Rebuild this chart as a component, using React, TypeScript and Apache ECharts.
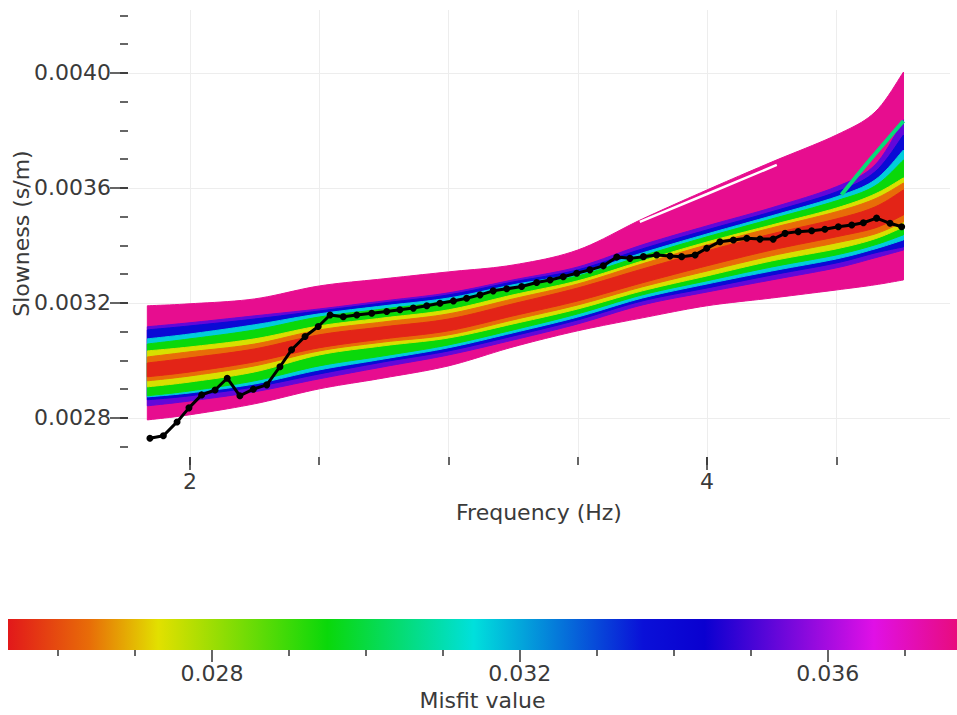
import { useEffect, useRef } from "react";
import * as echarts from "echarts";

// ---------- data ----------
const FREQ = [1.835, 2.0, 2.25, 2.5, 2.75, 3.0, 3.25, 3.5, 3.75, 4.0, 4.25, 4.5, 4.65, 4.76];

const PINK_UPPER = [0.00319, 0.003197, 0.003214, 0.003259, 0.003284, 0.003308, 0.003332, 0.003384, 0.003492, 0.003593, 0.00369, 0.003784, 0.003864, 0.004003];
const PINK_LOWER = [0.002793, 0.002811, 0.002849, 0.002901, 0.002939, 0.002981, 0.003047, 0.003103, 0.003148, 0.00319, 0.003217, 0.003245, 0.003263, 0.00328];
const PURPLE_UPPER = [0.003117, 0.003131, 0.003155, 0.003179, 0.003207, 0.003235, 0.00328, 0.003325, 0.003402, 0.003468, 0.003531, 0.003604, 0.00368, 0.003837];
const PURPLE_LOWER = [0.002842, 0.002859, 0.002891, 0.002936, 0.002978, 0.003019, 0.003071, 0.003127, 0.003193, 0.003238, 0.00328, 0.003322, 0.003357, 0.003384];
const BLUE_UPPER = [0.003106, 0.00312, 0.003144, 0.003172, 0.0032, 0.003228, 0.003273, 0.003315, 0.003388, 0.003454, 0.003517, 0.003586, 0.003656, 0.003784];
const BLUE_LOWER = [0.002863, 0.002877, 0.002908, 0.002953, 0.002995, 0.003033, 0.003085, 0.003141, 0.003207, 0.003252, 0.003297, 0.003339, 0.003374, 0.003395];
const CYAN_UPPER = [0.003075, 0.003092, 0.003124, 0.003162, 0.00319, 0.003217, 0.003263, 0.003304, 0.003374, 0.00344, 0.003503, 0.003569, 0.003628, 0.003732];
const CYAN_LOWER = [0.002873, 0.002887, 0.002918, 0.002967, 0.003005, 0.003044, 0.003096, 0.003151, 0.003217, 0.003266, 0.003311, 0.003353, 0.003388, 0.003419];
const GREEN_UPPER = [0.003057, 0.003075, 0.003106, 0.003151, 0.003179, 0.003207, 0.003252, 0.003294, 0.003364, 0.00343, 0.003492, 0.003555, 0.003607, 0.003697];
const GREEN_LOWER = [0.002877, 0.002894, 0.002929, 0.002981, 0.003016, 0.003054, 0.003106, 0.003162, 0.003228, 0.003277, 0.003325, 0.003367, 0.003402, 0.003437];
const YELLOW_UPPER = [0.003033, 0.003047, 0.003075, 0.00312, 0.003148, 0.003176, 0.003228, 0.003277, 0.003346, 0.003412, 0.003471, 0.00353, 0.003579, 0.003635];
const YELLOW_LOWER = [0.002908, 0.002925, 0.00296, 0.003019, 0.003051, 0.003078, 0.003127, 0.003179, 0.003242, 0.003294, 0.003346, 0.003388, 0.003423, 0.003464];
const ORANGE_UPPER = [0.003012, 0.00303, 0.003057, 0.003106, 0.003134, 0.003162, 0.003214, 0.003266, 0.003336, 0.003402, 0.003461, 0.003517, 0.003562, 0.003617];
const ORANGE_LOWER = [0.002929, 0.002946, 0.002981, 0.003033, 0.003064, 0.003089, 0.003141, 0.003193, 0.003256, 0.003311, 0.003364, 0.003409, 0.00344, 0.003482];
const RED_UPPER = [0.002991, 0.003009, 0.00304, 0.003089, 0.003117, 0.003144, 0.003197, 0.003252, 0.003318, 0.003381, 0.00344, 0.003492, 0.003534, 0.003593];
const RED_LOWER = [0.002943, 0.00296, 0.002995, 0.003044, 0.003075, 0.003103, 0.003155, 0.003207, 0.00327, 0.003329, 0.003384, 0.00343, 0.003461, 0.003506];

// misfit of each band, worst (outermost) first
const BAND_MISFITS = [0.0375, 0.0353, 0.0339, 0.0316, 0.0295, 0.0274, 0.0264, 0.0255];

// empty lane inside the worst-misfit curves
const GAP_FREQ = [3.74, 4.0, 4.27];
const GAP_SLOW = [0.003482, 0.003579, 0.00368];

// single deviating curve near the high-frequency end
const SPIKE_FREQ = [4.52, 4.63, 4.76];
const SPIKE_SLOW = [0.003576, 0.003697, 0.003833];
const SPIKE_MISFIT = 0.0305;

// measured dispersion curve
const OBS_FREQ = [1.845, 1.897, 1.95, 1.996, 2.045, 2.097, 2.144, 2.193, 2.245, 2.297, 2.348, 2.393, 2.445, 2.496, 2.542, 2.593, 2.645, 2.703, 2.761, 2.812, 2.864, 2.916, 2.967, 3.019, 3.07, 3.122, 3.173, 3.225, 3.283, 3.341, 3.393, 3.444, 3.496, 3.547, 3.599, 3.651, 3.702, 3.754, 3.805, 3.857, 3.902, 3.954, 3.999, 4.05, 4.102, 4.154, 4.205, 4.256, 4.302, 4.353, 4.405, 4.456, 4.508, 4.56, 4.605, 4.656, 4.708, 4.753];
const OBS_SLOW = [0.002729, 0.002738, 0.002786, 0.002835, 0.00288, 0.002897, 0.002938, 0.002877, 0.0029, 0.002915, 0.002978, 0.003037, 0.003083, 0.003118, 0.003158, 0.003152, 0.003158, 0.003164, 0.00317, 0.003176, 0.003182, 0.00319, 0.003199, 0.003207, 0.003216, 0.003228, 0.003242, 0.003249, 0.003257, 0.003271, 0.00328, 0.003291, 0.003303, 0.003315, 0.003329, 0.00336, 0.003355, 0.003361, 0.003367, 0.003363, 0.003361, 0.003367, 0.00339, 0.003413, 0.003419, 0.003425, 0.003422, 0.003422, 0.003442, 0.003448, 0.003451, 0.003456, 0.003465, 0.003471, 0.003479, 0.003495, 0.003477, 0.003465];

// axis ticks
const X_MAJOR = [2, 4];
const X_MINOR = [2, 2.5, 3, 3.5, 4, 4.5];
const Y_MAJOR = [0.0028, 0.0032, 0.0036, 0.004];
const Y_MINOR = [0.0027, 0.0028, 0.0029, 0.003, 0.0031, 0.0032, 0.0033, 0.0034, 0.0035, 0.0036, 0.0037, 0.0038, 0.0039, 0.004, 0.0041, 0.0042];
const X_RANGE = [1.7602, 4.94];
const Y_RANGE = [0.002664, 0.004219];

// colour scale
const CBAR_RANGE = [0.02535, 0.03768];
const CBAR_MAJOR = [0.028, 0.032, 0.036];
const CBAR_MINOR = [0.026, 0.027, 0.029, 0.03, 0.031, 0.033, 0.034, 0.035, 0.037];
const CMAP_STOPS = [0.02535, 0.0264, 0.0273, 0.0295, 0.0314, 0.0336, 0.0344, 0.0366, 0.03768];
const CMAP_COLORS = ["#e2181a", "#e86c08", "#e2e000", "#0ad80a", "#00e0dc", "#0a10d8", "#0a00d0", "#e010e6", "#e80c7e"];

// ---------- helpers ----------
function hexToRgb(h: string) {
  return [parseInt(h.slice(1, 3), 16), parseInt(h.slice(3, 5), 16), parseInt(h.slice(5, 7), 16)];
}
function cmap(v: number): string {
  if (v <= CMAP_STOPS[0]) return CMAP_COLORS[0];
  for (let i = 0; i < CMAP_STOPS.length - 1; i++) {
    if (v <= CMAP_STOPS[i + 1]) {
      const t = (v - CMAP_STOPS[i]) / (CMAP_STOPS[i + 1] - CMAP_STOPS[i]);
      const a = hexToRgb(CMAP_COLORS[i]);
      const b = hexToRgb(CMAP_COLORS[i + 1]);
      const c = a.map((x, k) => Math.round(x + (b[k] - x) * t));
      return `rgb(${c[0]},${c[1]},${c[2]})`;
    }
  }
  return CMAP_COLORS[CMAP_COLORS.length - 1];
}

// Catmull-Rom rendering of a pixel-space polyline (drawing only; data stay as read)
function splinePixels(pts: number[][], steps = 10): number[][] {
  const out: number[][] = [];
  const n = pts.length;
  for (let i = 0; i < n - 1; i++) {
    const p0 = pts[Math.max(i - 1, 0)];
    const p1 = pts[i];
    const p2 = pts[i + 1];
    const p3 = pts[Math.min(i + 2, n - 1)];
    for (let s = 0; s < steps; s++) {
      const t = s / steps;
      const t2 = t * t;
      const t3 = t2 * t;
      const f = (a: number, b: number, c: number, d: number) =>
        0.5 * (2 * b + (-a + c) * t + (2 * a - 5 * b + 4 * c - d) * t2 + (-a + 3 * b - 3 * c + d) * t3);
      out.push([f(p0[0], p1[0], p2[0], p3[0]), f(p0[1], p1[1], p2[1], p3[1])]);
    }
  }
  out.push(pts[n - 1]);
  return out;
}

const BANDS = [
  { upper: PINK_UPPER, lower: PINK_LOWER },
  { upper: PURPLE_UPPER, lower: PURPLE_LOWER },
  { upper: BLUE_UPPER, lower: BLUE_LOWER },
  { upper: CYAN_UPPER, lower: CYAN_LOWER },
  { upper: GREEN_UPPER, lower: GREEN_LOWER },
  { upper: YELLOW_UPPER, lower: YELLOW_LOWER },
  { upper: ORANGE_UPPER, lower: ORANGE_LOWER },
  { upper: RED_UPPER, lower: RED_LOWER },
].map((b, i) => ({ ...b, misfit: BAND_MISFITS[i] }));

const FONT = "DejaVu Sans";
const TXT = "#3a3a3a";
const FS = 22;

function bandSeries(b: { upper: number[]; lower: number[]; misfit: number }) {
  const col = cmap(b.misfit);
  // one data row per frequency sample: [freq, upper, lower]
  const rows = FREQ.map((f, j) => [f, b.upper[j], b.lower[j]]);
  return {
    type: "custom",
    xAxisIndex: 0,
    yAxisIndex: 0,
    silent: true,
    encode: { x: 0, y: [1, 2] },
    data: rows,
    renderItem: (params: any, api: any) => {
      if (params.dataIndex !== 0) return null;
      const top: number[][] = [];
      const bot: number[][] = [];
      for (let j = 0; j < rows.length; j++) {
        top.push(api.coord([rows[j][0], rows[j][1]]));
        bot.push(api.coord([rows[j][0], rows[j][2]]));
      }
      const pts = splinePixels(top).concat(splinePixels(bot).reverse());
      return {
        type: "polygon",
        shape: { points: pts },
        style: { fill: col, stroke: col, lineWidth: 1 },
      };
    },
  };
}

export default function App() {
  const ref = useRef<HTMLDivElement>(null);
  useEffect(() => {
    if (!ref.current) return;
    const chart = echarts.init(ref.current, null, { renderer: "svg" });

    const series: any[] = [];
    BANDS.forEach((b, i) => {
      series.push(bandSeries(b));
      if (i === 0) {
        series.push({
          type: "line",
          xAxisIndex: 0,
          yAxisIndex: 0,
          data: GAP_FREQ.map((f, j) => [f, GAP_SLOW[j]]),
          symbol: "none",
          smooth: 0.5,
          lineStyle: { width: 2.5, color: "#ffffff" },
          silent: true,
        });
      }
    });
    series.push({
      type: "line",
      xAxisIndex: 0,
      yAxisIndex: 0,
      data: SPIKE_FREQ.map((f, j) => [f, SPIKE_SLOW[j]]),
      symbol: "none",
      smooth: 0.3,
      lineStyle: { width: 4, color: cmap(SPIKE_MISFIT) },
      silent: true,
    });
    series.push({
      type: "line",
      xAxisIndex: 0,
      yAxisIndex: 0,
      data: OBS_FREQ.map((f, j) => [f, OBS_SLOW[j]]),
      symbol: "circle",
      symbolSize: 7,
      itemStyle: { color: "#000" },
      lineStyle: { width: 3, color: "#000" },
      silent: true,
    });
    // colour bar
    const span = CBAR_RANGE[1] - CBAR_RANGE[0];
    const gradStops = CMAP_STOPS.map((s, i) => ({ offset: (s - CBAR_RANGE[0]) / span, color: CMAP_COLORS[i] }));
    series.push({
      type: "custom",
      xAxisIndex: 2,
      yAxisIndex: 2,
      encode: { x: [0, 1] },
      data: [[CBAR_RANGE[0], CBAR_RANGE[1]]],
      silent: true,
      renderItem: (_p: any, api: any) => {
        const a = api.coord([api.value(0), 0]);
        const b = api.coord([api.value(1), 1]);
        return {
          type: "rect",
          shape: { x: a[0], y: b[1], width: b[0] - a[0], height: a[1] - b[1] },
          style: { fill: new echarts.graphic.LinearGradient(0, 0, 1, 0, gradStops) },
        };
      },
    });

    const tickStyle = { color: "#333", width: 1.5 };
    const nameStyle = { fontSize: FS, color: TXT, fontFamily: FONT };
    chart.setOption({
      animation: false,
      textStyle: { fontFamily: FONT },
      grid: [
        { left: 128, right: 7, top: 10, bottom: 258, containLabel: false, outerBoundsMode: "none" },
        { left: 8, right: 0, top: 619, height: 31, containLabel: false, outerBoundsMode: "none" },
      ],
      xAxis: [
        {
          gridIndex: 0,
          type: "value",
          position: "bottom",
          min: X_RANGE[0],
          max: X_RANGE[1],
          axisLine: { show: false },
          axisTick: { show: true, customValues: X_MAJOR, length: 13, lineStyle: tickStyle },
          axisLabel: { customValues: X_MAJOR, fontSize: FS, color: TXT, margin: 13, fontFamily: FONT },
          splitLine: { show: false },
          name: "Frequency (Hz)",
          nameLocation: "middle",
          nameGap: 44,
          nameMoveOverlap: false,
          nameTextStyle: nameStyle,
        },
        {
          gridIndex: 0,
          type: "value",
          position: "bottom",
          min: X_RANGE[0],
          max: X_RANGE[1],
          axisLine: { show: false },
          axisTick: { show: true, customValues: X_MINOR, length: 8, lineStyle: tickStyle },
          axisLabel: { show: false },
          splitLine: { show: true, lineStyle: { color: "#ededed", width: 1 } },
        },
        {
          gridIndex: 1,
          type: "value",
          position: "bottom",
          min: CBAR_RANGE[0],
          max: CBAR_RANGE[1],
          axisLine: { show: false },
          axisTick: { show: true, customValues: CBAR_MAJOR, length: 12, lineStyle: tickStyle },
          axisLabel: {
            customValues: CBAR_MAJOR,
            fontSize: FS,
            color: TXT,
            margin: 12,
            fontFamily: FONT,
            formatter: (v: number) => v.toFixed(3),
          },
          splitLine: { show: false },
          name: "Misfit value",
          nameLocation: "middle",
          nameGap: 39,
          nameMoveOverlap: false,
          nameTextStyle: nameStyle,
        },
        {
          gridIndex: 1,
          type: "value",
          position: "bottom",
          min: CBAR_RANGE[0],
          max: CBAR_RANGE[1],
          axisLine: { show: false },
          axisTick: { show: true, customValues: CBAR_MINOR, length: 6, lineStyle: tickStyle },
          axisLabel: { show: false },
          splitLine: { show: false },
        },
      ],
      yAxis: [
        {
          gridIndex: 0,
          type: "value",
          position: "left",
          min: Y_RANGE[0],
          max: Y_RANGE[1],
          axisLine: { show: false },
          axisTick: { show: true, customValues: Y_MAJOR, length: 18, lineStyle: tickStyle },
          axisLabel: {
            customValues: Y_MAJOR,
            fontSize: FS,
            color: TXT,
            margin: 17,
            fontFamily: FONT,
            formatter: (v: number) => v.toFixed(4),
          },
          splitLine: { show: true, lineStyle: { color: "#ededed", width: 1 } },
          name: "Slowness (s/m)",
          nameLocation: "middle",
          nameGap: 96,
          nameMoveOverlap: false,
          nameTextStyle: nameStyle,
        },
        {
          gridIndex: 0,
          type: "value",
          position: "left",
          min: Y_RANGE[0],
          max: Y_RANGE[1],
          axisLine: { show: false },
          axisTick: { show: true, customValues: Y_MINOR, length: 8, lineStyle: tickStyle },
          axisLabel: { show: false },
          splitLine: { show: false },
        },
        { gridIndex: 1, type: "value", min: 0, max: 1, show: false },
      ],
      series,
    });
    return () => chart.dispose();
  }, []);

  return (
    <div
      ref={ref}
      style={{ position: "fixed", left: 0, top: 0, width: 957, height: 715, background: "#fff" }}
    />
  );
}
